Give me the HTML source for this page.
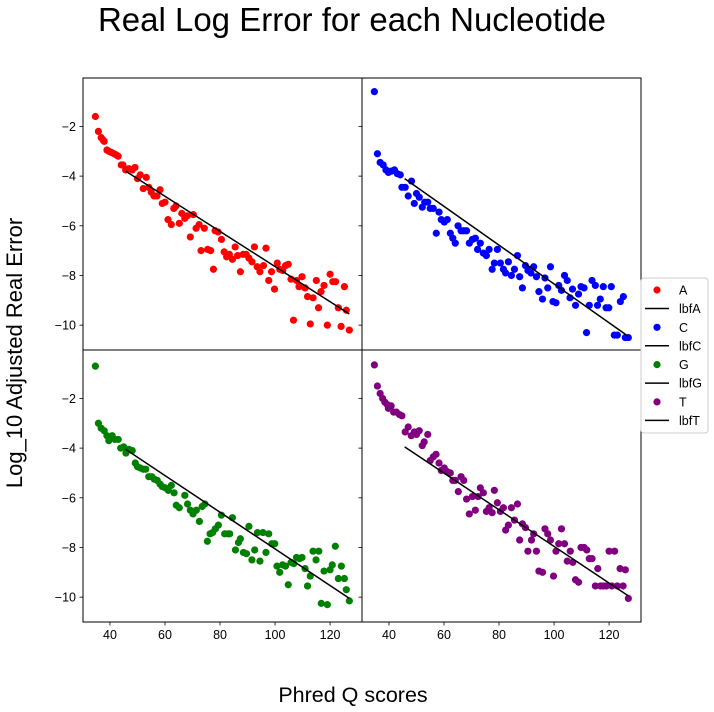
<!DOCTYPE html>
<html><head><meta charset="utf-8">
<style>
html,body{margin:0;padding:0;background:#fff;}
svg{display:block;font-family:"Liberation Sans","DejaVu Sans",sans-serif;}
</style></head>
<body>
<svg id="chart" width="714" height="712" viewBox="0 0 714 712" xmlns="http://www.w3.org/2000/svg">
<text x="352" y="31" font-size="33" text-anchor="middle" fill="#000">Real Log Error for each Nucleotide</text>
<text x="0" y="0" font-size="22" text-anchor="middle" fill="#000" transform="translate(22,353) rotate(-90)">Log_10 Adjusted Real Error</text>
<text x="353" y="702" font-size="21.5" text-anchor="middle" fill="#000">Phred Q scores</text>
<g id="panels"></g>
<g id="legend"></g>
</svg>
<script>
// ---- data (x = Phred Q, y = log10 error) ----
const xA=[34.7,35.8,36.8,37.5,37.9,38.9,39.6,40.6,41.5,42.3,43,44.1,44.7,45.7,46.9,48.1,49.1,50,51,52.1,53.2,54.1,55,56,57.1,58.2,59,60,61.1,62.3,63.2,64,65.2,66.1,67.2,68.1,69.2,70.3,71.3,72.4,73.1,74.3,75.5,76.6,77.6,78.2,79.3,80.5,81.5,82.4,83.4,84.5,85.5,86.4,87.4,88.4,89.5,90.5,91.6,92.5,93.5,94.5,95.8,96.7,97.7,98.7,99.8,100.8,101.7,102.8,103.8,104.8,105.8,106.7,107.8,108.7,109.8,110.9,111.8,112.8,113.8,115,115.8,116.7,117.8,119,120,121,122,123,124,125.2,125.9,127];
const yA=[-1.6,-2.2,-2.45,-2.55,-2.6,-2.95,-3,-3.05,-3.1,-3.15,-3.2,-3.55,-3.55,-3.75,-3.7,-3.75,-3.65,-4.1,-3.95,-4.5,-4.05,-4.45,-4.65,-4.8,-4.8,-4.55,-5.1,-5.05,-5.75,-5.95,-5.3,-5.2,-5.9,-5.5,-5.7,-5.6,-6.45,-5.55,-6.1,-5.95,-7,-6.1,-6.95,-7,-7.75,-6.2,-6.25,-6.55,-7.05,-7.25,-7.15,-7.35,-6.85,-7.2,-7.85,-7.15,-7.15,-7.3,-7.45,-6.85,-7.65,-7.85,-7.6,-6.9,-8.2,-7.85,-8.55,-7.5,-7.75,-7.8,-7.6,-7.55,-8.15,-9.8,-8.2,-8.45,-8.05,-8.5,-8.85,-9.95,-8.9,-8.2,-9.3,-8.65,-8.4,-10,-7.95,-8.25,-8.25,-9.3,-10.05,-8.45,-9.4,-10.2];
const xC=[34.7,35.8,36.8,37.9,38.9,39.8,40.8,42,43,44.1,44.7,45.9,47,48.2,49.2,50,51,52.1,53,54.1,55,56.1,57.2,58.2,59,60.1,61.2,62.3,63.2,64.1,65.1,66.2,67.2,68.2,69.2,70.3,71.4,72.2,73.2,74.3,75.4,76.4,77.5,78.3,79.4,80.5,81.6,82.4,83.4,84.5,85.6,86.7,87.5,88.5,89.6,90.5,91.6,92.6,93.6,94.5,95.8,96.7,97.7,98.7,99.6,100.7,101.7,102.7,103.8,104.8,105.8,106.7,107.8,108.9,109.8,110.9,111.8,112.8,113.8,115,115.8,116.8,117.9,118.9,119.9,120.8,121.9,123,124.1,125.2,125.9,127];
const yC=[-0.6,-3.1,-3.45,-3.55,-3.75,-3.85,-3.8,-3.75,-3.9,-3.95,-4.45,-4.45,-4.8,-4.2,-5.1,-4.7,-4.85,-5.25,-5.05,-5.05,-5.3,-5.3,-6.3,-5.45,-5.75,-5.85,-5.75,-6.3,-6.5,-6.7,-6,-6.2,-6.2,-6.2,-6.7,-6.55,-6.5,-6.95,-6.7,-7.1,-7.2,-6.95,-7.75,-7.5,-6.95,-7.5,-7.75,-7.9,-7.45,-8,-7.75,-7.2,-8.05,-8.5,-7.6,-7.8,-7.9,-7.65,-8.05,-8.65,-8.95,-8.1,-8.5,-7.65,-9.05,-9.1,-8.4,-8.6,-8,-8.2,-8.9,-8.55,-9.2,-8.75,-8.45,-8.5,-10.3,-9.2,-8.2,-8.4,-9.2,-8.95,-8.45,-9.3,-9.3,-8.45,-10.4,-10.4,-9.05,-8.85,-10.5,-10.5];
const xG=[34.7,35.8,36.8,37.9,38.9,39.6,40.8,41.8,43,43.9,45,45.8,46.9,48.1,49.2,50,51,52.1,53,54.1,55.2,56.1,57.2,58.2,59,60.1,61.2,62.3,63.3,64.1,65.2,67.2,68.2,69.2,70.2,71.4,72.5,73.5,74.5,75.4,76.4,77.3,78.3,79.4,80.5,81.7,82.8,83.5,84.5,85.6,86.7,87.4,88.5,89.6,90.5,91.6,92.6,93.6,94.5,95.6,96.7,97.7,98.8,99.9,100.7,101.7,102.7,103.8,104.8,105.8,106.8,107.8,108.9,109.8,110.9,111.8,112.8,113.8,114.9,115.9,116.8,117.8,119,120,120.8,121.9,123,124.1,125.2,125.9,127];
const yG=[-0.7,-3,-3.2,-3.3,-3.5,-3.7,-3.5,-3.65,-3.65,-4,-3.95,-4.2,-4.05,-4.1,-4.6,-4.75,-4.8,-4.85,-4.85,-5.15,-5.15,-5.25,-5.3,-5.45,-5.55,-5.6,-5.7,-5.5,-5.8,-6.3,-6.4,-5.9,-6.25,-6.5,-6.65,-6.5,-6.95,-6.35,-6.25,-7.75,-7.45,-7.4,-7.25,-7.1,-6.7,-7.45,-7.45,-7.45,-6.8,-8.1,-7.8,-7.65,-8.2,-8.25,-7.15,-8.5,-8.1,-7.4,-8.55,-7.4,-8.2,-7.45,-7.85,-7.85,-8.75,-9,-8.7,-8.75,-9.5,-8.6,-8.65,-8.4,-8.45,-8.4,-8.85,-9.55,-9.15,-8.15,-8.5,-8.15,-10.25,-8.95,-10.3,-8.9,-8.7,-7.95,-9.25,-8.75,-9.25,-9.7,-10.15];
const xT=[34.7,35.8,36.8,37.7,38.5,39.4,39.8,40.8,41.7,42.7,43.8,44.7,45.9,47,48.1,49.2,50,51,52.1,52.8,54.1,55,56.1,57.1,58.2,59,60.1,61.2,62.3,63.2,64.1,65.2,66.2,67.2,68.2,69.2,70.3,71.4,72.4,73.2,74.3,75.4,76.4,77.5,78.3,79.4,80.5,81.6,82.4,83.4,84.5,85.6,86.7,87.5,88.5,89.6,90.5,91.8,92.6,93.6,94.5,95.8,96.7,97.7,98.7,99.8,100.7,101.7,102.7,103.8,104.8,105.9,106.8,107.8,108.9,109.8,110.9,111.9,112.8,113.8,115,115.9,116.9,117.9,119,120,121,122,123,124,125.1,125.9,127];
const yT=[-0.65,-1.5,-1.8,-2,-2.15,-2.25,-2.4,-2.3,-2.55,-2.55,-2.65,-2.7,-3.35,-3.15,-3.5,-3.35,-3.45,-3.3,-3.9,-3.75,-3.45,-4.5,-4.35,-4.25,-4.6,-4.9,-4.8,-4.95,-5,-5.3,-5.3,-5.75,-5.15,-5.3,-6.05,-6.65,-5.95,-6.5,-5.95,-5.6,-5.8,-6.55,-6.4,-6.6,-5.7,-6.2,-6.55,-6.4,-7.3,-7.1,-6.4,-6.9,-6.25,-7.7,-7.05,-7.2,-8.15,-7.7,-7.45,-8.15,-8.95,-9,-7.25,-7.45,-7.7,-9.15,-8.15,-7.85,-7.25,-7.85,-8.55,-8.15,-8.6,-9.3,-9.4,-8,-8,-8.1,-8.45,-8.45,-9.55,-8.85,-9.55,-9.55,-9.55,-8.15,-9.55,-8.15,-9.55,-8.85,-9.55,-8.9,-10.05];
// best-fit line endpoints
const fitX=[45.7,127];
const fitA=[-3.8,-9.55];
const fitC=[-4.1,-10.45];
const fitG=[-4.05,-10.05];
const fitT=[-3.95,-9.95];
const xTicks=[40,60,80,100,120];
const yTicks=[-2,-4,-6,-8,-10];
const seriesNames=['A','C','G','T'];
const colors=['#ff0000','#0000ff','#008000','#800080'];

const NS='http://www.w3.org/2000/svg';
const X0=30.2,X1=131.6,Y0=-11.0,Y1=-0.05;
const panelW=279,panelH=272;
const origins=[[83,78],[362,78],[83,350],[362,350]];
const xs=[xA,xC,xG,xT], ys=[yA,yC,yG,yT], fits=[fitA,fitC,fitG,fitT];
function sx(v,ox){return ox+(v-X0)/(X1-X0)*panelW;}
function sy(v,oy){return oy+(Y1-v)/(Y1-Y0)*panelH;}
function mk(tag,attrs){const e=document.createElementNS(NS,tag);for(const k in attrs)e.setAttribute(k,attrs[k]);return e;}
const gp=document.getElementById('panels');
for(let p=0;p<4;p++){
  const [ox,oy]=origins[p];
  const g=mk('g',{});
  
  
  gp.appendChild(g);
  for(let i=0;i<xs[p].length;i++){
    const c=mk('circle',{cx:sx(xs[p][i],ox),cy:sy(ys[p][i],oy),r:3.6,fill:colors[p]});
    
    
    g.appendChild(c);
  }
  const l=mk('line',{x1:sx(fitX[0],ox),y1:sy(fits[p][0],oy),x2:sx(fitX[1],ox),y2:sy(fits[p][1],oy),stroke:'#000','stroke-width':1.5});
  
  
  g.appendChild(l);
  const fr=mk('rect',{x:ox,y:oy,width:panelW,height:panelH,fill:'none',stroke:'#000','stroke-width':1});
  
  
  g.appendChild(fr);
  for(const t of yTicks){
    const yy=sy(t,oy);
    const tk=mk('line',{x1:ox-3.5,y1:yy,x2:ox,y2:yy,stroke:'#000','stroke-width':0.8});
    
    
    g.appendChild(tk);
    if(p%2===0){
      const tx=mk('text',{x:ox-7,y:yy+4.5,'font-size':12.5,'text-anchor':'end',fill:'#000'});
      
      
      tx.textContent='\u2212'+Math.abs(t);
      g.appendChild(tx);
    }
  }
  if(p>=2){
    for(const t of xTicks){
      const xx=sx(t,ox);
      const tk=mk('line',{x1:xx,y1:oy+panelH,x2:xx,y2:oy+panelH+3.5,stroke:'#000','stroke-width':0.8});
      
      
      g.appendChild(tk);
      const tx=mk('text',{x:xx,y:oy+panelH+17,'font-size':12.5,'text-anchor':'middle',fill:'#000'});
      
      
      tx.textContent=t;
      g.appendChild(tx);
    }
  }
}
const lg=document.getElementById('legend');
const box=mk('rect',{x:641,y:278,width:67,height:155,fill:'#fff',stroke:'#ccc','stroke-width':1,rx:3});


lg.appendChild(box);
for(let i=0;i<4;i++){
  const y1=290+i*37.3, y2=y1+18.5;
  const c=mk('circle',{cx:657,cy:y1,r:3.6,fill:colors[i]});
  
  
  lg.appendChild(c);
  const t1=mk('text',{x:679,y:y1+4.5,'font-size':12.5,fill:'#000'});
  
  
  t1.textContent=seriesNames[i];
  lg.appendChild(t1);
  const ln=mk('line',{x1:645,y1:y2,x2:669,y2:y2,stroke:'#000','stroke-width':1.5});
  
  
  lg.appendChild(ln);
  const t2=mk('text',{x:679,y:y2+4.5,'font-size':12.5,fill:'#000'});
  
  
  t2.textContent='lbf'+seriesNames[i];
  lg.appendChild(t2);
}
</script>
</body></html>
